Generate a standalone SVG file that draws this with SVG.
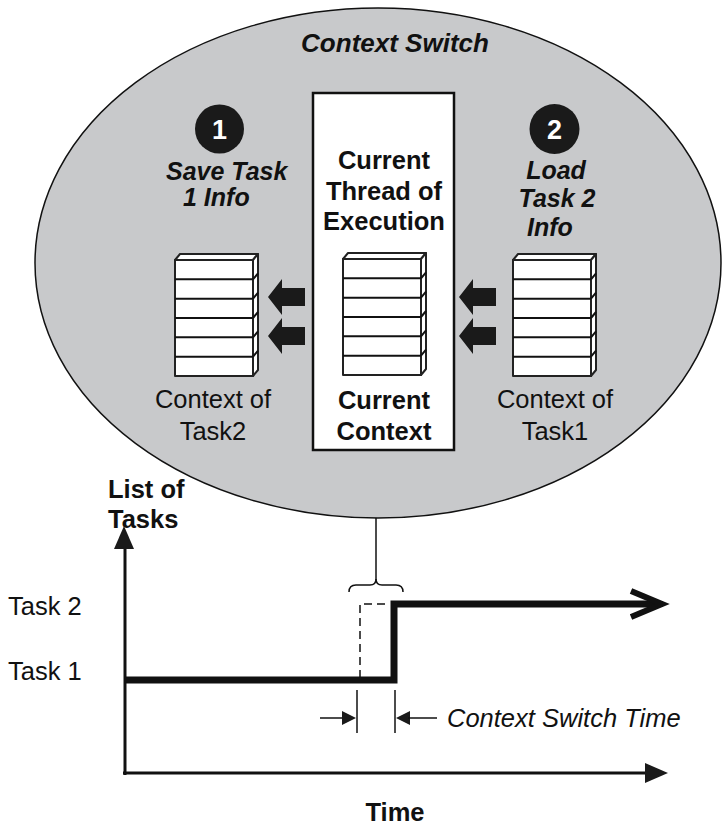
<svg xmlns="http://www.w3.org/2000/svg" xmlns:xlink="http://www.w3.org/1999/xlink" width="722" height="830" viewBox="0 0 722 830">
<style>
text{font-family:"Liberation Sans",Arial,Helvetica,sans-serif;fill:#111}
.bi{font-weight:bold;font-style:italic;font-size:25px}
.b{font-weight:bold;font-size:25.5px}
.r{font-size:25.5px}
.it{font-style:italic;font-size:25.5px}
.stk{fill:#fff;stroke:#222;stroke-width:2;stroke-linejoin:round}
.blk{fill:#1a1a1a}
.ln{stroke:#111;fill:none}
</style>
<defs>
<g id="stack">
<polygon class="stk" points="0,0 5,-6 83,-6 78,0"/>
<polygon class="stk" points="78,0 83,-6 83,110 78,116"/>
<rect class="stk" x="0" y="0" width="78" height="116"/>
<g class="ln" stroke-width="2">
<line x1="0" y1="19.3" x2="78" y2="19.3"/><line x1="0" y1="38.7" x2="78" y2="38.7"/><line x1="0" y1="58" x2="78" y2="58"/><line x1="0" y1="77.3" x2="78" y2="77.3"/><line x1="0" y1="96.7" x2="78" y2="96.7"/>
<path d="M78,19.3 L83,13.3 M78,38.7 L83,32.7 M78,58 L83,52 M78,77.3 L83,71.3 M78,96.7 L83,90.7"/>
</g>
</g>
<polygon id="larrow" points="0,0 14,-18 14,-9 37,-9 37,9 14,9 14,18"/>
</defs>
<rect width="722" height="830" fill="#fff"/>

<g id="context-switch">
<ellipse cx="378" cy="263" rx="343" ry="255" fill="#c8c9cb" stroke="#111" stroke-width="1.5"/>
<text class="bi" x="395" y="52" text-anchor="middle" style="font-size:26px">Context Switch</text>
</g>

<g id="current-thread">
<rect x="313" y="93" width="141" height="357" fill="#fff" stroke="#111" stroke-width="2.5"/>
<text class="b" x="384" y="169" text-anchor="middle">Current</text>
<text class="b" x="384" y="200" text-anchor="middle">Thread of</text>
<text class="b" x="384" y="230" text-anchor="middle">Execution</text>
<use xlink:href="#stack" x="343" y="259"/>
<text class="b" x="384" y="409" text-anchor="middle">Current</text>
<text class="b" x="384" y="440" text-anchor="middle">Context</text>
</g>

<g id="step1">
<circle cx="219.5" cy="129" r="24.5" fill="#1a1a1a"/>
<text x="219.5" y="139" text-anchor="middle" style="font-weight:bold;font-size:27px;fill:#fff">1</text>
<text class="bi" x="166" y="180">Save Task</text>
<text class="bi" x="183" y="206">1 Info</text>
</g>

<g id="step2">
<circle cx="554.5" cy="129" r="25" fill="#1a1a1a"/>
<text x="554.5" y="139" text-anchor="middle" style="font-weight:bold;font-size:27px;fill:#fff">2</text>
<text class="bi" x="556" y="179" text-anchor="middle">Load</text>
<text class="bi" x="557" y="207" text-anchor="middle">Task 2</text>
<text class="bi" x="550" y="236" text-anchor="middle">Info</text>
</g>

<g id="task2-context">
<use xlink:href="#stack" x="175" y="260"/>
<text class="r" x="213" y="408" text-anchor="middle">Context of</text>
<text class="r" x="213" y="440" text-anchor="middle">Task2</text>
</g>

<g id="task1-context">
<use xlink:href="#stack" x="513" y="260"/>
<text class="r" x="555" y="408" text-anchor="middle">Context of</text>
<text class="r" x="555" y="440" text-anchor="middle">Task1</text>
</g>

<g id="connectors">
<use xlink:href="#larrow" x="268" y="297" class="blk"/>
<use xlink:href="#larrow" x="268" y="336" class="blk"/>
<use xlink:href="#larrow" x="459" y="297" class="blk"/>
<use xlink:href="#larrow" x="459" y="336" class="blk"/>
<line class="ln" x1="376" y1="518" x2="376" y2="580" stroke-width="1.5"/>
<path class="ln" stroke-width="1.5" d="M349,592 Q349,585 356,585 L370,585 Q376,585 376,579 Q376,585 382,585 L396,585 Q403,585 403,592"/>
</g>

<g id="chart">
<text class="b" x="108" y="498">List of</text>
<text class="b" x="108" y="528">Tasks</text>
<text class="r" x="8" y="615">Task 2</text>
<text class="r" x="8" y="680">Task 1</text>
<line class="ln" x1="125" y1="775" x2="125" y2="546" stroke-width="3"/>
<polygon class="blk" points="124,526 114,549 134,549"/>
<line class="ln" x1="123" y1="773" x2="648" y2="773" stroke-width="3"/>
<polygon class="blk" points="668,773 645,763 645,783"/>
<polyline class="ln" points="125,680 394,680 394,604 658,604" stroke="#1a1a1a" stroke-width="7"/>
<polyline class="ln" points="631,591 662,604 631,617" stroke="#1a1a1a" stroke-width="6"/>
<path class="ln" d="M360,678 L360,604 L385,604" stroke-width="1.5" stroke-dasharray="8 5"/>
<line class="ln" x1="357" y1="690" x2="357" y2="733" stroke-width="1.5"/>
<line class="ln" x1="395" y1="690" x2="395" y2="733" stroke-width="1.5"/>
<line class="ln" x1="320" y1="718" x2="345" y2="718" stroke-width="1.5"/>
<polygon class="blk" points="356,718 342,711 342,725"/>
<polygon class="blk" points="396,718 410,711 410,725"/>
<line class="ln" x1="408" y1="718" x2="437" y2="718" stroke-width="1.5"/>
<text class="it" x="447" y="727">Context Switch Time</text>
<text class="b" x="395" y="821" text-anchor="middle">Time</text>
</g>
</svg>
